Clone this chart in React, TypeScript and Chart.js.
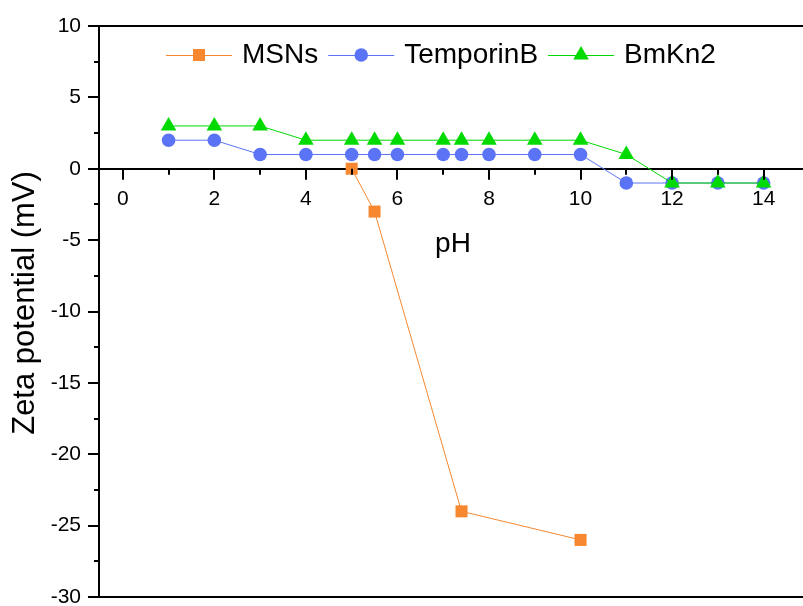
import React, { useEffect, useRef } from 'react';
import { Chart, registerables } from 'chart.js';

Chart.register(...registerables);

// pH values measured for each sample
const phMSNs = [5, 5.5, 7.4, 10];
const phPeptides = [1, 2, 3, 4, 5, 5.5, 6, 7, 7.4, 8, 9, 10, 11, 12, 13, 14];

// zeta potential (mV)
const zetaMSNs = [0, -3, -24, -26];
const zetaTemporinB = [2, 2, 1, 1, 1, 1, 1, 1, 1, 1, 1, 1, -1, -1, -1, -1];
const zetaBmKn2 = [3, 3, 3, 2, 2, 2, 2, 2, 2, 2, 2, 2, 1, -1, -1, -1];

const seriesNames = ['MSNs', 'TemporinB', 'BmKn2'];
const seriesColors = ['#F7882F', '#5B74F6', '#00DA00'];
const seriesMarkers = ['rect', 'circle', 'triangle'];

const xTickValues = [0, 1, 2, 3, 4, 5, 6, 7, 8, 9, 10, 11, 12, 13, 14];
const yMajorTicks = [-30, -25, -20, -15, -10, -5, 0, 5, 10];
const yMinorTicks = [-27.5, -22.5, -17.5, -12.5, -7.5, -2.5, 2.5, 7.5];

const xTitle = 'pH';
const yTitle = 'Zeta potential (mV)';

const FONT = "'Liberation Sans', Arial, sans-serif";

function markerPath(ctx: CanvasRenderingContext2D, style: string, x: number, y: number, r: number) {
  ctx.beginPath();
  if (style === 'rect') {
    const s = Math.SQRT1_2 * r;
    ctx.rect(x - s, y - s, 2 * s, 2 * s);
  } else if (style === 'triangle') {
    for (let i = 0; i < 3; i++) {
      const a = (i * 2 * Math.PI) / 3;
      const px = x + Math.sin(a) * r;
      const py = y - Math.cos(a) * r;
      if (i === 0) ctx.moveTo(px, py);
      else ctx.lineTo(px, py);
    }
    ctx.closePath();
  } else {
    ctx.arc(x, y, r, 0, Math.PI * 2);
  }
}

const markerRadius: Record<string, number> = { rect: 8.5, circle: 6.8, triangle: 9 };

const decorations = {
  id: 'decorations',
  afterDraw(chart: any) {
    const ctx: CanvasRenderingContext2D = chart.ctx;
    const { left, right, top, bottom } = chart.chartArea;
    const xs = chart.scales.x;
    const ys = chart.scales.y;
    const y0 = ys.getPixelForValue(0);
    ctx.save();
    ctx.strokeStyle = '#000';
    ctx.lineWidth = 2;

    // frame lines at top and bottom of the plot
    ctx.beginPath();
    ctx.moveTo(left - 11, Math.round(top));
    ctx.lineTo(chart.width, Math.round(top));
    ctx.moveTo(left - 11, Math.round(bottom));
    ctx.lineTo(chart.width, Math.round(bottom));
    ctx.stroke();

    // y tick marks (outside, left)
    ctx.beginPath();
    yMajorTicks.forEach((v) => {
      const p = Math.round(ys.getPixelForValue(v));
      ctx.moveTo(left - 11, p);
      ctx.lineTo(left, p);
    });
    yMinorTicks.forEach((v) => {
      const p = Math.round(ys.getPixelForValue(v));
      ctx.moveTo(left - 5, p);
      ctx.lineTo(left, p);
    });
    // x tick marks (below the zero line)
    xTickValues.forEach((v) => {
      const p = Math.round(xs.getPixelForValue(v));
      const len = v % 2 === 0 ? 11 : 6;
      ctx.moveTo(p, y0);
      ctx.lineTo(p, y0 + len);
    });
    ctx.stroke();

    // axis titles
    ctx.fillStyle = '#000';
    ctx.font = `28px ${FONT}`;
    ctx.textAlign = 'center';
    ctx.textBaseline = 'middle';
    ctx.fillText(xTitle, (left + right) / 2 + 2, y0 + 76);
    ctx.save();
    ctx.font = `31px ${FONT}`;
    ctx.translate(25, 303);
    ctx.rotate(-Math.PI / 2);
    ctx.fillText(yTitle, 0, 0);
    ctx.restore();

    // legend: line + marker + label
    const ly = 55;
    let lx = 166;
    const lineLen = 66;
    ctx.textAlign = 'left';
    ctx.font = `28px ${FONT}`;
    chart.data.datasets.forEach((ds: any, i: number) => {
      const color = seriesColors[i];
      ctx.strokeStyle = color;
      ctx.lineWidth = 1;
      ctx.beginPath();
      ctx.moveTo(lx, ly + 0.5);
      ctx.lineTo(lx + lineLen, ly + 0.5);
      ctx.stroke();
      const style = seriesMarkers[i];
      markerPath(ctx, style, lx + lineLen / 2, ly, markerRadius[style]);
      ctx.fillStyle = color;
      ctx.fill();
      ctx.fillStyle = '#000';
      const tx = lx + lineLen + 10;
      ctx.fillText(ds.label, tx, ly);
      lx = tx + ctx.measureText(ds.label).width + 10;
    });
    ctx.restore();
  },
};

function makeDataset(i: number, xs: number[], ys: number[], order: number) {
  const style = seriesMarkers[i];
  return {
    label: seriesNames[i],
    data: xs.map((x, k) => ({ x, y: ys[k] })),
    borderColor: seriesColors[i],
    backgroundColor: seriesColors[i],
    borderWidth: 1,
    pointStyle: style,
    pointRadius: markerRadius[style],
    pointBorderWidth: 0,
    pointBackgroundColor: seriesColors[i],
    pointBorderColor: seriesColors[i],
    showLine: true,
    clip: false,
    order,
  };
}

export default function App() {
  const canvasRef = useRef<HTMLCanvasElement>(null);

  useEffect(() => {
    if (!canvasRef.current) return;
    const chart = new Chart(canvasRef.current, {
      type: 'scatter',
      data: {
        datasets: [
          makeDataset(0, phMSNs, zetaMSNs, 2),
          makeDataset(1, phPeptides, zetaTemporinB, 1),
          makeDataset(2, phPeptides, zetaBmKn2, 0),
        ],
      },
      options: {
        animation: false,
        responsive: false,
        devicePixelRatio: 1,
        layout: { autoPadding: false, padding: { top: 26, bottom: 9, left: 0, right: 0 } },
        plugins: {
          legend: { display: false },
          tooltip: { enabled: false },
        },
        scales: {
          x: {
            type: 'linear',
            min: -0.52,
            max: 14.86,
            position: { y: 0 } as any,
            grid: {
              display: true,
              drawOnChartArea: false,
              drawTicks: true,
              tickLength: 18,
              tickColor: 'rgba(0,0,0,0)',
            },
            border: { display: true, color: '#000', width: 2 },
            afterBuildTicks: (s: any) => {
              s.ticks = xTickValues.map((v) => ({ value: v }));
            },
            ticks: {
              autoSkip: false,
              maxRotation: 0,
              padding: 0,
              color: '#000',
              font: { family: FONT, size: 21 },
              callback: (v: any) => (Number(v) % 2 === 0 ? String(v) : ''),
            },
          },
          y: {
            type: 'linear',
            min: -30,
            max: 10,
            position: 'left',
            afterFit: (s: any) => {
              s.width = 99;
            },
            grid: {
              display: true,
              drawOnChartArea: false,
              drawTicks: true,
              tickLength: 18,
              tickColor: 'rgba(0,0,0,0)',
            },
            border: { display: true, color: '#000', width: 2 },
            afterBuildTicks: (s: any) => {
              s.ticks = yMajorTicks.map((v) => ({ value: v }));
            },
            ticks: {
              padding: 0,
              color: '#000',
              font: { family: FONT, size: 21, lineHeight: 0.8 },
            },
          },
        },
      },
      plugins: [decorations],
    });
    return () => chart.destroy();
  }, []);

  return (
    <div style={{ position: 'fixed', left: 0, top: 0, width: 803, height: 606, background: '#fff' }}>
      <canvas ref={canvasRef} width={803} height={606} style={{ width: 803, height: 606 }} />
    </div>
  );
}
